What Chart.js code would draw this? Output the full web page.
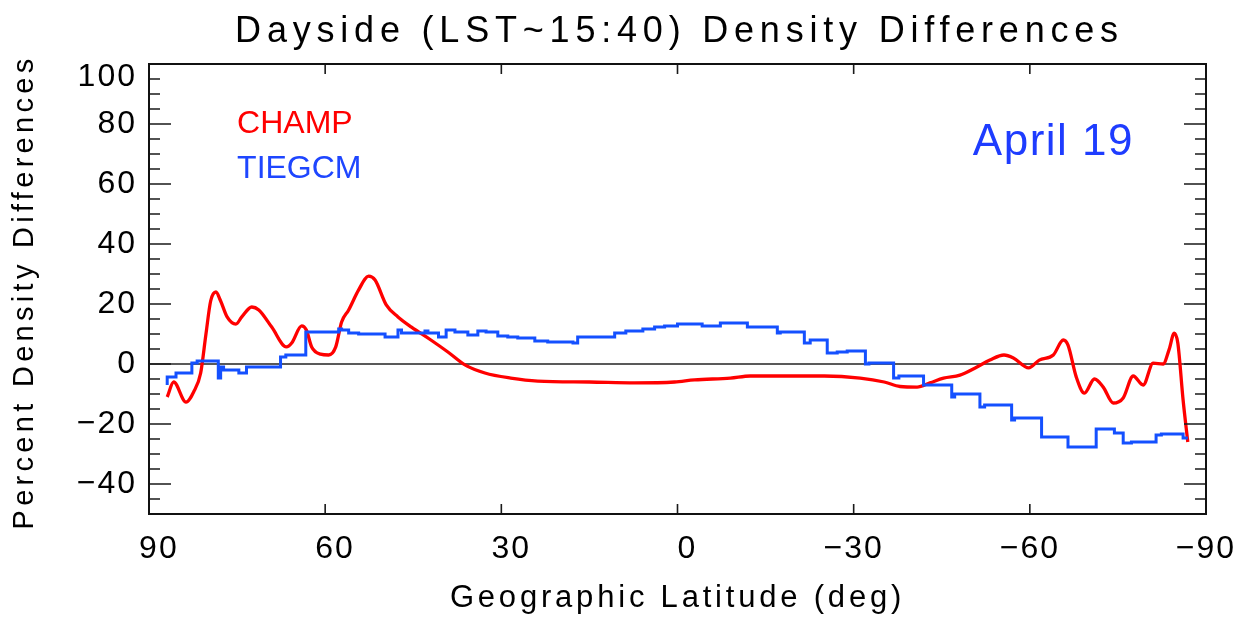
<!DOCTYPE html>
<html>
<head>
<meta charset="utf-8">
<title>Dayside Density Differences</title>
<script src="https://cdn.jsdelivr.net/npm/chart.js@4.4.1/dist/chart.umd.min.js"></script>
<style>
  html, body { margin: 0; padding: 0; background: #fff; }
  #wrap { width: 1256px; height: 622px; }
</style>
</head>
<body>
<div id="wrap"><canvas id="chart" width="1256" height="622"></canvas></div>
<script>
// CHAMP: observed percent density differences along the orbit (deg latitude)
const champLat = [86.9, 85.8, 83.7, 82.4, 81.2, 80.3, 79.5, 78.6, 77.8, 76.7,
  75.2, 74.2, 72.5, 71.3, 69.1, 66.6, 65.7, 64.0, 63.2, 62.3,
  60.8, 59.4, 58.2, 57.2, 56.0, 54.3, 52.6, 51.5, 49.6, 47.6,
  45.3, 42.0, 39.1, 36.2, 32.8, 28.4, 23.8, 15, 7.3, 0.5,
  -2.9, -9.0, -12.4, -18.2, -25, -31.1, -35.2, -37.9, -40.8, -43.0,
  -45.3, -48.1, -51.0, -53.2, -55.6, -57.2, -59.8, -61.6, -64.0, -65.7,
  -66.5, -67.9, -69.3, -71.0, -72.5, -74.2, -75.9, -77.6, -79.3, -81.0,
  -82.7, -83.7, -84.6, -85.2, -86.1, -86.9];
const champPct = [-11, -6, -12.7, -9.3, -3, 10, 21, 24, 21, 15.7,
  13.3, 15.7, 19, 18, 12.3, 5.7, 7, 12.7, 11.3, 5.7,
  3.3, 3, 5.7, 14, 18, 24.7, 29.3, 28, 19.7, 15.7,
  12.3, 8, 4, -0.3, -3, -4.7, -5.7, -6, -6.3, -6,
  -5.3, -4.7, -4, -4, -4, -4.7, -6, -7.5, -7.7, -6.3,
  -4.7, -3.7, -1, 1.3, 3, 2, -1.3, 1.3, 3, 8,
  6.3, -4.3, -9.7, -5, -7.7, -13, -11.3, -4, -7, 0.3,
  0, 4.7, 10.3, 7, -12, -26];

// TIEGCM: model values, each level held until the next latitude
const tiegcmLat = [86.9, 85.4, 82.7, 81.8, 78.6, 78.2, 77.8, 77.3, 74.7, 73.4,
  72.2, 67.6, 66.7, 63.3, 62.8, 57.7, 57.2, 56.0, 54.3, 49.8,
  47.6, 47.0, 43.0, 42.5, 40.7, 39.4, 37.9, 35.7, 34.0, 32.6,
  30.6, 28.9, 27.2, 24.3, 22.1, 17.8, 17.0, 15.6, 10.7, 8.8,
  5.9, 3.9, 2.2, 0, -4.2, -7.3, -8.5, -11.9, -12.4, -17,
  -17.5, -21.6, -22.6, -25.5, -27.2, -28.9, -32, -32.6, -36.8, -37.7,
  -39.6, -41.9, -42.4, -46.7, -47.2, -51.5, -52.3, -56.9, -57.4, -62.0,
  -62.5, -66.5, -67.4, -71.3, -72.2, -74.4, -75.9, -77.3, -81.5, -82.4,
  -86.1, -86.9];
const tiegcmPct = [-7, -4.3, -3, 0.3, 1, 1, -4.7, -1, -2, -3,
  -1, -1, 2.3, 3, 10.7, 10.7, 11.7, 11.3, 10.3, 10,
  9, 11.3, 10.3, 11, 10.3, 9, 11.3, 10.7, 9.7, 11,
  10.7, 9.3, 9, 8.7, 7.7, 7.3, 7, 9, 9, 10.3,
  11, 11.7, 12.3, 12.7, 13.3, 12.7, 13.7, 13.7, 12.3, 12.3,
  10.3, 10.7, 7, 8, 3.7, 4, 4.3, 0, 0.3, -4.7,
  -4, -4, -7, -7, -11, -10, -14.3, -13.7, -18.7, -18,
  -24.3, -24.3, -27.7, -27.7, -21.7, -21.7, -23, -26.3, -26, -23.7,
  -23.3, -24.7];

const latTicks = [90, 60, 30, 0, -30, -60, -90];
const pctTicks = [-40, -20, 0, 20, 40, 60, 80, 100];

const FONT = "'Liberation Sans', Arial, sans-serif";
const RED = '#ff0000';
const BLUE = '#1450ff';

const toPoints = (xs, ys) => xs.map((x, i) => ({ x, y: ys[i] }));
const minus = (v) => (v < 0 ? '\u2212' + Math.abs(v) : '\u2007' + v);

// IDL style frame: box, inward ticks on all four sides, zero line, labels
const frame = {
  id: 'frame',
  beforeDraw(chart) {
    chart.ctx.letterSpacing = '2px';
  },
  beforeDatasetsDraw(chart) {
    const { ctx, chartArea: a, scales: { y } } = chart;
    const y0 = y.getPixelForValue(0);
    ctx.save();
    ctx.strokeStyle = '#222';
    ctx.lineWidth = 1.6;
    ctx.beginPath();
    ctx.moveTo(a.left, y0);
    ctx.lineTo(a.right, y0);
    ctx.stroke();
    ctx.restore();
  },
  afterDatasetsDraw(chart) {
    const { ctx, chartArea: a, scales: { x, y } } = chart;
    ctx.save();
    ctx.strokeStyle = '#1a1a1a';
    ctx.lineWidth = 1.6;
    ctx.beginPath();
    for (let v = -50; v <= 100; v += 5) {
      const py = y.getPixelForValue(v);
      const len = v % 20 === 0 ? 22 : 11;
      ctx.moveTo(a.left, py); ctx.lineTo(a.left + len, py);
      ctx.moveTo(a.right, py); ctx.lineTo(a.right - len, py);
    }
    latTicks.forEach((v) => {
      const px = x.getPixelForValue(v);
      ctx.moveTo(px, a.bottom); ctx.lineTo(px, a.bottom - 10);
      ctx.moveTo(px, a.top); ctx.lineTo(px, a.top + 10);
    });
    ctx.stroke();
    ctx.lineWidth = 2;
    ctx.strokeStyle = '#111';
    ctx.strokeRect(a.left, a.top, a.right - a.left, a.bottom - a.top);
    ctx.restore();
  },
  afterDraw(chart) {
    const { ctx, chartArea: a, scales: { x, y } } = chart;
    const cx = (a.left + a.right) / 2;
    ctx.save();
    ctx.fillStyle = '#000';
    ctx.textBaseline = 'alphabetic';
    ctx.textAlign = 'center';

    ctx.letterSpacing = '5.8px';
    ctx.font = '36px ' + FONT;
    ctx.fillText('Dayside (LST~15:40) Density Differences', cx + 2, 42);

    ctx.letterSpacing = '3.8px';
    ctx.font = '31px ' + FONT;
    ctx.fillText('Geographic Latitude (deg)', cx, 607);

    ctx.save();
    ctx.translate(33, 292);
    ctx.rotate(-Math.PI / 2);
    ctx.letterSpacing = '4.3px';
    ctx.font = '29px ' + FONT;
    ctx.fillText('Percent Density Differences', 0, 0);
    ctx.restore();

    // series labels and date inside the plot
    ctx.textAlign = 'left';
    ctx.letterSpacing = '0px';
    ctx.font = '32px ' + FONT;
    ctx.fillStyle = RED;
    ctx.fillText('CHAMP', x.getPixelForValue(75), y.getPixelForValue(77));
    ctx.fillStyle = '#1e46ff';
    ctx.fillText('TIEGCM', x.getPixelForValue(75), y.getPixelForValue(62));
    ctx.letterSpacing = '1.5px';
    ctx.font = '44px ' + FONT;
    ctx.fillStyle = '#1e3cff';
    ctx.fillText('April 19', x.getPixelForValue(-50.3), y.getPixelForValue(69.7));
    ctx.restore();
  }
};

new Chart(document.getElementById('chart').getContext('2d'), {
  type: 'line',
  data: {
    datasets: [
      {
        label: 'TIEGCM',
        data: toPoints(tiegcmLat, tiegcmPct),
        borderColor: BLUE,
        borderWidth: 3,
        pointRadius: 0,
        stepped: 'after',
        order: 0
      },
      {
        label: 'CHAMP',
        data: toPoints(champLat, champPct),
        borderColor: RED,
        borderWidth: 3.3,
        pointRadius: 0,
        cubicInterpolationMode: 'monotone',
        order: 1
      }
    ]
  },
  options: {
    responsive: false,
    animation: false,
    events: [],
    layout: { padding: { top: 64, right: 50, bottom: 0, left: 0 } },
    scales: {
      x: {
        type: 'linear',
        min: -90,
        max: 90,
        reverse: true,
        afterBuildTicks: (scale) => { scale.ticks = latTicks.map((value) => ({ value })); },
        afterFit: (scale) => { scale.height = 108; },
        grid: { display: false, drawTicks: false },
        border: { display: false },
        ticks: {
          color: '#000',
          padding: 16,
          maxRotation: 0,
          autoSkip: false,
          font: { family: FONT, size: 32 },
          callback: (v) => minus(v)
        }
      },
      y: {
        type: 'linear',
        min: -50,
        max: 100,
        afterBuildTicks: (scale) => { scale.ticks = pctTicks.map((value) => ({ value })); },
        afterFit: (scale) => { scale.width = 149; },
        grid: { display: false, drawTicks: false },
        border: { display: false },
        ticks: {
          color: '#000',
          padding: 12,
          autoSkip: false,
          font: { family: FONT, size: 32, lineHeight: '26px' },
          // top label sits just below the frame corner
          callback: (v) => (v === 100 ? ['', '100'] : (v < 0 ? '\u2212' + Math.abs(v) : String(v)))
        }
      }
    },
    plugins: {
      legend: { display: false },
      tooltip: { enabled: false },
      title: { display: false }
    }
  },
  plugins: [frame]
});
</script>
</body>
</html>
